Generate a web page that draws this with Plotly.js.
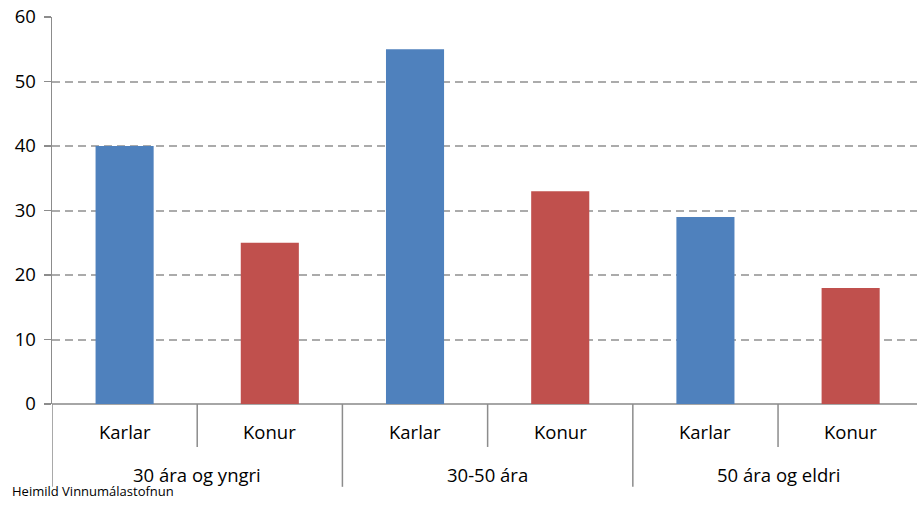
<!DOCTYPE html>
<html><head><meta charset="utf-8">
<script src="https://cdn.plot.ly/plotly-3.0.1.min.js"></script>
<style>html,body{margin:0;padding:0;background:#fff}#c{width:917px;height:505px}</style>
</head><body><div id="c"></div>
<script>
const groups = ["30 ára og yngri", "30-50 ára", "50 ára og eldri"];
const genders = ["Karlar", "Konur"];
const values = [40, 25, 55, 33, 29, 18];
const colors = ["#4F81BD", "#C0504D"];
const yTicks = [0, 10, 20, 30, 40, 50, 60];
const source = "Heimild Vinnumálastofnun";

const xs = values.map((v, i) => i);
const barColors = values.map((v, i) => colors[i % 2]);
const font = "Open Sans, Liberation Sans, sans-serif";
const fs = 18.5;

const annotations = [];
const shapes = [];
values.forEach((v, i) => {
  annotations.push({x: i, y: -0.072, xref: 'x', yref: 'paper', text: genders[i % 2], showarrow: false,
    font: {family: font, size: fs, color: '#000'}, yanchor: 'middle'});
  if (i > 0) {
    const major = i % 2 === 0;
    shapes.push({type: 'line', xref: 'x', yref: 'paper', x0: i - 0.5, x1: i - 0.5, y0: 0, y1: major ? -0.214 : -0.111,
      line: {color: '#8C8C8C', width: 1.5}});
  }
});
groups.forEach((g, k) => {
  annotations.push({x: 2 * k + 0.5, y: -0.183, xref: 'x', yref: 'paper', text: g, showarrow: false,
    font: {family: font, size: fs, color: '#000'}, yanchor: 'middle'});
});
shapes.push({type: 'line', xref: 'x', yref: 'paper', x0: -0.5, x1: -0.5, y0: 0, y1: -0.214,
  line: {color: '#8C8C8C', width: 1.5}});
annotations.push({x: -0.048, y: -0.225, xref: 'paper', yref: 'paper', text: source, showarrow: false,
  xanchor: 'left', yanchor: 'middle', font: {family: font, size: 13, color: '#000'}});

Plotly.newPlot('c', [{
  type: 'bar', x: xs, y: values, width: 0.4,
  marker: {color: barColors, line: {width: 0}}, hoverinfo: 'none'
}], {
  width: 917, height: 505,
  margin: {l: 52, r: 0, t: 17, b: 101},
  paper_bgcolor: '#fff', plot_bgcolor: '#fff',
  showlegend: false,
  xaxis: {range: [-0.5, 5.457], showticklabels: false, showgrid: false, zeroline: false,
    showline: false, ticks: '', fixedrange: true},
  yaxis: {range: [0, 60], tickvals: yTicks, ticks: 'outside', ticklen: 7, tickcolor: '#8C8C8C', tickwidth: 1.5,
    showline: true, linecolor: '#8C8C8C', linewidth: 1.5,
    showgrid: true, gridcolor: '#ABABAB', griddash: '8px,5px', gridwidth: 2,
    zeroline: true, zerolinecolor: '#A6A6A6', zerolinewidth: 1.5,
    tickfont: {family: font, size: fs, color: '#000'}, ticklabelstandoff: 4},
  annotations: annotations, shapes: shapes
}, {displayModeBar: false, staticPlot: true});
</script></body></html>
